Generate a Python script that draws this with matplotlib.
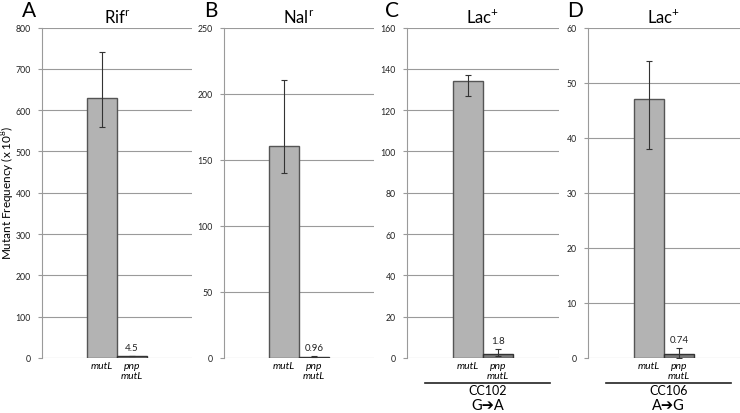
import numpy as np
import matplotlib.pyplot as plt
from matplotlib.lines import Line2D

plt.rcParams['font.family'] = ['Lato', 'DejaVu Sans']
plt.rcParams['mathtext.fontset'] = 'custom'
plt.rcParams['mathtext.rm'] = 'Lato'

# data
strains = ['mutL', 'pnp\nmutL']
panels = ['A', 'B', 'C', 'D']
titles = [r'Rif$^\mathregular{r}$', r'Nal$^\mathregular{r}$',
          r'Lac$^\mathregular{+}$', r'Lac$^\mathregular{+}$']
ymax = [800, 250, 160, 60]
ystep = [100, 50, 20, 10]
mutl = [630, 160, 134, 47]
pnp = [4.5, 0.96, 1.8, 0.74]
mutl_hi = [740, 210, 137, 54]
mutl_lo = [560, 140, 127, 38]
pnp_hi = [5.5, 1.6, 4.4, 1.84]
pnp_lo = [4.0, 0.5, 0.8, 0.0]
pnp_text = ['4.5', '0.96', '1.8', '0.74']
strain_names = [None, None, 'CC102', 'CC106']
mutations = [None, None, 'G\u2794A', 'A\u2794G']

W, H = 740, 414
fig = plt.figure(figsize=(W / 100, H / 100), dpi=100)

lefts = [42, 224, 407, 588]
widths = [150, 150, 152, 152]
top_px, zero_px = 28.5, 359
letter_x = [22, 204, 385, 567]

for i in range(4):
    ax = fig.add_axes([lefts[i] / W, 1 - zero_px / H, widths[i] / W, (zero_px - top_px) / H])
    x = np.arange(2)
    vals = [mutl[i], pnp[i]]
    lo = [mutl[i] - mutl_lo[i], pnp[i] - pnp_lo[i]]
    hi = [mutl_hi[i] - mutl[i], pnp_hi[i] - pnp[i]]
    ax.bar(x, vals, width=1.0, color=['#b3b3b3', '#7a7a7a'],
           edgecolor=['#555555', '#333333'], linewidth=1.0, zorder=3)
    ax.errorbar(x, vals, yerr=[lo, hi], fmt='none', ecolor='#333333',
                elinewidth=0.8, capsize=2.5, capthick=0.8, zorder=4)
    ax.text(1, pnp_hi[i] + ymax[i] * 0.012, pnp_text[i], ha='center', va='bottom',
            fontsize=7, color='#222222')
    ax.set_xlim(-2.0, 3.0)
    ax.set_ylim(0, ymax[i])
    ax.set_yticks(np.arange(0, ymax[i] + 1, ystep[i]))
    ax.yaxis.grid(True, color='#9a9a9a', linewidth=0.8, zorder=0)
    ax.set_axisbelow(True)
    for s in ['top', 'right', 'bottom']:
        ax.spines[s].set_visible(False)
    ax.spines['left'].set_color('#9a9a9a')
    ax.spines['left'].set_linewidth(0.8)
    ax.tick_params(axis='y', length=3, width=0.8, color='#9a9a9a', labelsize=6.3,
                   labelcolor='#222222', pad=5)
    ax.set_xticks(x)
    ax.set_xticklabels(strains, fontsize=7.5, style='italic', linespacing=1.15)
    ax.tick_params(axis='x', length=0, pad=2)
    ax.set_title(titles[i], fontsize=12, pad=3)
    fig.text(letter_x[i] / W, 1 - 11 / H, panels[i], fontsize=15, va='center', ha='left')
    if strain_names[i]:
        ax.add_line(Line2D([0.12, 0.94], [-0.077, -0.077], transform=ax.transAxes,
                           color='#222222', linewidth=1.2, clip_on=False))
        ax.text(0.53, -0.097, strain_names[i], transform=ax.transAxes,
                ha='center', va='center', fontsize=9)
        ax.text(0.53, -0.143, mutations[i], transform=ax.transAxes,
                ha='center', va='center', fontsize=10.5)

fig.text(8 / W, 1 - 193 / H, r'Mutant Frequency (x 10$^\mathregular{8}$)',
         rotation=90, ha='center', va='center', fontsize=8.5)

fig.savefig('out.png', dpi=100)
